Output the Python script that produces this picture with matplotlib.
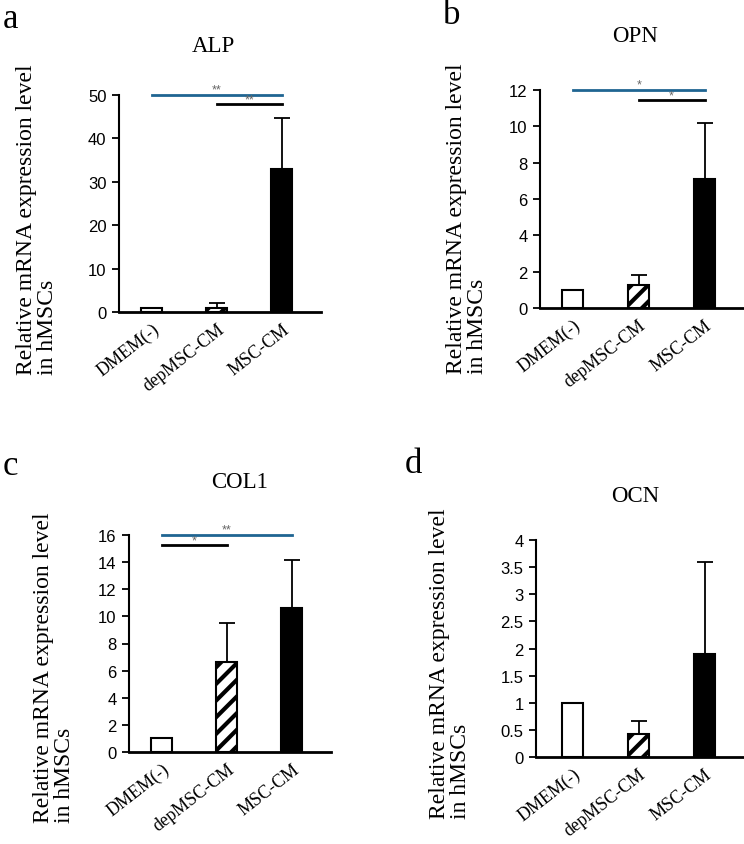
import matplotlib
matplotlib.use("Agg")
import matplotlib.pyplot as plt

groups = ["DMEM(-)", "depMSC-CM", "MSC-CM"]

alp_mean = [1.0, 1.0, 33.0]
alp_sd = [0.0, 1.0, 11.8]
opn_mean = [1.0, 1.25, 7.1]
opn_sd = [0.0, 0.55, 3.1]
col1_mean = [1.0, 6.6, 10.6]
col1_sd = [0.0, 2.9, 3.55]
ocn_mean = [1.0, 0.42, 1.9]
ocn_sd = [0.0, 0.24, 1.7]

# significance brackets: (from, to, y, stars, colour)
alp_sig = [(0, 2, 50, "**", "#1f6592"), (1, 2, 47.9, "**", "black")]
opn_sig = [(0, 2, 12, "*", "#1f6592"), (1, 2, 11.43, "*", "black")]
col1_sig = [(0, 2, 16, "**", "#1f6592"), (0, 1, 15.25, "*", "black")]
ocn_sig = []

plt.rcParams["hatch.linewidth"] = 3.0

W, H = 744, 845
fig = plt.figure(figsize=(W / 100, H / 100), dpi=100)

serif = "Liberation Serif"
sans = "Liberation Sans"


def px_axes(left, right, bottom, top):
    return fig.add_axes([left / W, 1 - bottom / H, (right - left) / W, (bottom - top) / H])


def panel(ax, mean, sd, ymax, step, sig, title, letter, letter_xy, title_xy, ylab_xy, xlo):
    x = list(range(len(groups)))
    colors = ["white", "white", "black"]
    hatches = ["", "//", ""]
    for i in x:
        ax.bar(i, mean[i], width=0.32, color=colors[i], edgecolor="black",
               linewidth=1.5, hatch=hatches[i], zorder=2)
        if sd[i] > 0:
            ax.errorbar(i, mean[i], yerr=[[0], [sd[i]]], fmt="none", ecolor="black",
                        elinewidth=1.3, capsize=6, capthick=1.3, zorder=1)
    for a, b, y, s, c in sig:
        ax.plot([a, b], [y, y], color=c, lw=2, clip_on=False, zorder=3)
        ax.text((a + b) / 2, y - ymax * 0.004, s, ha="center", va="bottom",
                fontsize=9, color="#666666", family=sans)
    ax.set_xlim(xlo, 2.6)
    ax.set_ylim(0, ymax)
    ticks = [i * step for i in range(int(round(ymax / step)) + 1)]
    ax.set_yticks(ticks)
    ax.set_yticklabels([("%g" % t) for t in ticks], family=sans, fontsize=12)
    ax.set_xticks(x)
    ax.set_xticklabels(groups, family=serif, fontsize=13, rotation=38,
                       ha="right", va="top", rotation_mode="anchor")
    ax.tick_params(axis="x", length=0, pad=6)
    ax.tick_params(axis="y", length=5, width=1.3, direction="out", pad=4)
    ax.spines["top"].set_visible(False)
    ax.spines["right"].set_visible(False)
    ax.spines["left"].set_linewidth(1.5)
    ax.spines["bottom"].set_linewidth(2)
    fig.text(letter_xy[0] / W, 1 - letter_xy[1] / H, letter, family=serif, fontsize=25,
             ha="left", va="baseline")
    fig.text(title_xy[0] / W, 1 - title_xy[1] / H, title, family=serif, fontsize=16.5,
             ha="center", va="center")
    fig.text(ylab_xy[0] / W, 1 - ylab_xy[1] / H,
             "Relative mRNA expression level\nin hMSCs", family=serif, fontsize=17,
             rotation=90, ha="center", va="center", multialignment="left",
             linespacing=1.06)


ax_a = px_axes(119, 321, 313, 96)
panel(ax_a, alp_mean, alp_sd, 50, 10, alp_sig, "ALP", "a", (3, 28), (213, 47), (37, 220), -0.5)

ax_b = px_axes(540, 744, 309, 91)
panel(ax_b, opn_mean, opn_sd, 12, 2, opn_sig, "OPN", "b", (443, 24), (635, 36), (467, 219), -0.5)

ax_c = px_axes(129, 331, 753, 536)
panel(ax_c, col1_mean, col1_sd, 16, 2, col1_sig, "COL1", "c", (3, 475), (240, 483), (54, 668), -0.5)

ax_d = px_axes(536, 744, 758, 541)
panel(ax_d, ocn_mean, ocn_sd, 4, 0.5, ocn_sig, "OCN", "d", (405, 473), (635, 497), (450, 664), -0.56)

fig.savefig("out.png", dpi=100)
